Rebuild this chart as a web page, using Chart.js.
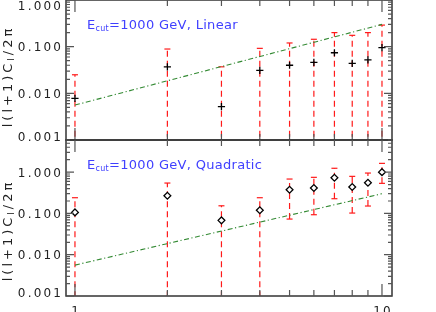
<!DOCTYPE html>
<html>
<head>
<meta charset="utf-8">
<script src="https://cdn.jsdelivr.net/npm/chart.js@4.4.1/dist/chart.umd.min.js"></script>
<style>
  body { margin: 0; background: #fff; }
  #wrap { position: relative; width: 436px; height: 312px; }
  #wrap canvas { position: absolute; left: 0; top: 0; }
</style>
</head>
<body>
<div id="wrap">
  <canvas id="chart-linear" width="436" height="312"></canvas>
  <canvas id="chart-quad" width="436" height="312"></canvas>
</div>
<script>
// multipole l
const ells = [1, 2, 3, 4, 5, 6, 7, 8, 9, 10];

// top panel: linear fit, central value and error bar ends (1e-4 = runs off the bottom)
const linearCl = [0.0078, 0.037, 0.0052, 0.031, 0.040, 0.046, 0.074, 0.044, 0.052, 0.095];
const linearHigh = [0.025, 0.089, 0.037, 0.092, 0.12, 0.144, 0.20, 0.175, 0.20, 0.29];
const linearLow = [1e-4, 1e-4, 1e-4, 1e-4, 1e-4, 1e-4, 1e-4, 1e-4, 1e-4, 1e-4];

// bottom panel: quadratic fit
const quadCl = [0.106, 0.268, 0.068, 0.119, 0.375, 0.412, 0.731, 0.436, 0.554, 1.0];
const quadHigh = [0.24, 0.544, 0.153, 0.24, 0.68, 0.748, 1.24, 0.79, 0.95, 1.63];
const quadLow = [1e-4, 1e-4, 1e-4, 1e-4, 0.073, 0.093, 0.227, 0.102, 0.151, 0.535];

// dash-dot reference curve
const modelEll = [1, 10];
const modelCl = [0.0056, 0.30];

// axis labels
const xTickValues = [1, 10];
const xTickLabels = ['1', '10'];
const yTickValues = [1, 0.1, 0.01, 0.001];
const yTickLabels = ['1.000', '0.100', '0.010', '0.001'];

const FONT = '"DejaVu Sans", sans-serif';

// --- text helpers (IDL-ish wide spacing, drawn char by char) ---
function richWidth(ctx, parts, spacing) {
    let w = 0;
    parts.forEach(p => {
        ctx.font = p.size + 'px ' + FONT;
        for (const ch of p.text) w += ctx.measureText(ch).width + spacing;
    });
    return w - spacing;
}

function drawRich(ctx, parts, x, y, spacing) {
    let cx = x;
    parts.forEach(p => {
        ctx.font = p.size + 'px ' + FONT;
        for (const ch of p.text) {
            ctx.fillText(ch, cx, y + (p.dy || 0));
            cx += ctx.measureText(ch).width + spacing;
        }
    });
}

// frame, inward ticks, labels and titles
const idlAxes = {
    id: 'idlAxes',
    afterDraw(chart, args, opts) {
        const { ctx, chartArea: a } = chart;
        const x = chart.scales.x, y = chart.scales.y;
        ctx.save();
        ctx.textBaseline = 'alphabetic';

        ctx.strokeStyle = '#333';
        ctx.lineWidth = 1.5;
        ctx.strokeRect(a.left, a.top, a.right - a.left, a.bottom - a.top);

        ctx.strokeStyle = '#555';
        ctx.lineWidth = 1.2;
        ctx.beginPath();
        for (let m = 1; m <= 10; m++) {
            const px = x.getPixelForValue(m);
            const len = (m === 1 || m === 10) ? 12 : 6;
            ctx.moveTo(px, a.bottom); ctx.lineTo(px, a.bottom - len);
            ctx.moveTo(px, a.top); ctx.lineTo(px, a.top + len);
        }
        const d0 = Math.floor(Math.log10(y.min)), d1 = Math.ceil(Math.log10(y.max));
        for (let d = d0; d <= d1; d++) {
            for (let m = 1; m <= 9; m++) {
                const v = m * Math.pow(10, d);
                if (v < y.min * 0.999 || v > y.max * 1.001) continue;
                const py = y.getPixelForValue(v);
                const len = m === 1 ? 8 : 4;
                ctx.moveTo(a.left, py); ctx.lineTo(a.left + len, py);
                ctx.moveTo(a.right, py); ctx.lineTo(a.right - len, py);
            }
        }
        ctx.stroke();

        // y tick labels
        ctx.fillStyle = '#222';
        yTickValues.forEach((v, i) => {
            if (v < y.min * 0.999 || v > y.max * 1.001) return;
            let py = y.getPixelForValue(v);
            py = Math.min(Math.max(py, a.top + 5), a.bottom - 4);
            const parts = [{ text: yTickLabels[i], size: 12 }];
            const w = richWidth(ctx, parts, 2.2);
            drawRich(ctx, parts, a.left - 5 - w, py + 4.5, 2.2);
        });

        // x tick labels (bottom panel only)
        if (opts.xLabels) {
            xTickValues.forEach((v, i) => {
                const parts = [{ text: xTickLabels[i], size: 12 }];
                const w = richWidth(ctx, parts, 2);
                drawRich(ctx, parts, x.getPixelForValue(v) - w / 2, a.bottom + 19, 2);
            });
        }

        // y title l(l+1)C_l/2pi
        const title = [
            { text: 'l(l+1)C', size: 13 },
            { text: 'l', size: 9, dy: 2 },
            { text: '/2\u03c0', size: 13 }
        ];
        const tw = richWidth(ctx, title, 3);
        ctx.translate(12, (a.top + a.bottom) / 2 + opts.titleShift);
        ctx.rotate(-Math.PI / 2);
        drawRich(ctx, title, -tw / 2, 0, 3);
        ctx.setTransform(1, 0, 0, 1, 0, 0);

        // annotation
        ctx.fillStyle = '#4040ff';
        drawRich(ctx, [
            { text: 'E', size: 13 },
            { text: 'cut', size: 8, dy: 2 },
            { text: '=1000 GeV, ' + opts.note, size: 13 }
        ], a.left + 21, a.top + 28.5, 0.3);

        ctx.restore();
    }
};

function errorBars(low, high, capLow) {
    return ells.map((l, i) => ({
        type: 'line',
        data: [{ x: l, y: low[i] }, { x: l, y: high[i] }],
        borderColor: '#ff1a1a',
        borderWidth: 1.2,
        borderDash: [6, 4],
        pointStyle: 'line',
        pointRadius: [capLow ? 3 : 0, 3],
        pointBorderColor: '#ff1a1a',
        pointBorderWidth: 1.2,
        showLine: true
    }));
}

function makePanel(id, cfg) {
    return new Chart(document.getElementById(id), {
        type: 'scatter',
        data: {
            datasets: [
                {
                    data: ells.map((l, i) => ({ x: l, y: cfg.values[i] })),
                    pointStyle: cfg.marker,
                    pointRadius: cfg.marker === 'rectRot' ? 3.4 : 3.6,
                    borderColor: '#000',
                    backgroundColor: '#fff',
                    borderWidth: 1.3
                },
                {
                    type: 'line',
                    data: modelEll.map((l, i) => ({ x: l, y: modelCl[i] })),
                    borderColor: '#338a33',
                    borderWidth: 1.1,
                    borderDash: [5, 2.5, 1.2, 2.5],
                    pointRadius: 0
                },
                ...errorBars(cfg.low, cfg.high, cfg.capLow)
            ]
        },
        options: {
            responsive: false,
            animation: false,
            devicePixelRatio: 1,
            events: [],
            layout: { padding: cfg.padding, autoPadding: false },
            plugins: {
                legend: { display: false },
                tooltip: { enabled: false },
                idlAxes: { note: cfg.note, titleShift: cfg.titleShift, xLabels: cfg.xLabels }
            },
            scales: {
                x: { type: 'logarithmic', min: 0.935, max: 10.78, display: false },
                y: { type: 'logarithmic', min: cfg.yMin, max: cfg.yMax, display: false }
            }
        },
        plugins: [idlAxes]
    });
}

makePanel('chart-linear', {
    values: linearCl, low: linearLow, high: linearHigh, capLow: false,
    marker: 'cross', note: 'Linear', yMin: 0.001, yMax: 1,
    padding: { left: 66, right: 44, top: 0, bottom: 172 },
    titleShift: 8, xLabels: false
});

makePanel('chart-quad', {
    values: quadCl, low: quadLow, high: quadHigh, capLow: true,
    marker: 'rectRot', note: 'Quadratic', yMin: 0.001, yMax: 6,
    padding: { left: 66, right: 44, top: 140, bottom: 16 },
    titleShift: 14, xLabels: true
});
</script>
</body>
</html>
